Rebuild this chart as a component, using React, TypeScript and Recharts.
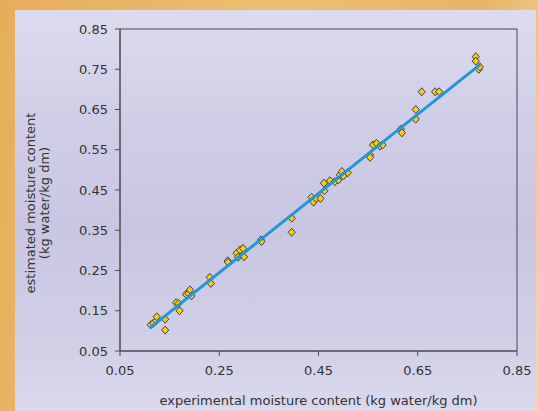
import React from "react";
import {
  ScatterChart,
  Scatter,
  XAxis,
  YAxis,
  ReferenceArea,
  Label,
} from "recharts";

// experimental (x) vs estimated (y) moisture content, kg water/kg dm
const expMoisture = [
  0.112, 0.117, 0.123, 0.124, 0.141, 0.141, 0.163, 0.168, 0.17, 0.183, 0.188,
  0.191, 0.194, 0.231, 0.233, 0.267, 0.268, 0.285, 0.288, 0.292, 0.298, 0.3,
  0.334, 0.335, 0.396, 0.396, 0.436, 0.44, 0.445, 0.454, 0.462, 0.461, 0.473,
  0.483, 0.49, 0.493, 0.497, 0.5, 0.509, 0.554, 0.554, 0.56, 0.567, 0.574,
  0.579, 0.616, 0.618, 0.646, 0.646, 0.658, 0.685, 0.693, 0.767, 0.767, 0.773,
  0.775,
];
const estMoisture = [
  0.115, 0.119, 0.125, 0.135, 0.129, 0.102, 0.17, 0.168, 0.15, 0.191, 0.193,
  0.202, 0.187, 0.233, 0.218, 0.274, 0.27, 0.293, 0.283, 0.301, 0.305, 0.284,
  0.326, 0.322, 0.38, 0.345, 0.432, 0.42, 0.429, 0.429, 0.448, 0.467, 0.473,
  0.471, 0.475, 0.487, 0.496, 0.485, 0.493, 0.537, 0.531, 0.562, 0.566, 0.559,
  0.562, 0.601, 0.592, 0.65, 0.626, 0.694, 0.694, 0.694, 0.781, 0.77, 0.75,
  0.756,
];

// linear trend line end points
const fitX = [0.11, 0.776];
const fitY = [0.107, 0.762];

const xTicks = [0.05, 0.25, 0.45, 0.65, 0.85];
const yTicks = [0.05, 0.15, 0.25, 0.35, 0.45, 0.55, 0.65, 0.75, 0.85];

const points = expMoisture.map((x, i) => ({ x, y: estMoisture[i] }));
const fitLine = fitX.map((x, i) => ({ x, y: fitY[i] }));

const font = "'DejaVu Sans', Verdana, sans-serif";
const textColor = "#333333";

const Diamond = (props: any) => {
  const { cx, cy } = props;
  if (cx == null || cy == null) return <g />;
  return (
    <polygon
      points={`${cx},${cy - 4} ${cx + 3.6},${cy} ${cx},${cy + 4} ${cx - 3.6},${cy}`}
      fill="#FFCC00"
      stroke="#3C3A6A"
      strokeWidth={1}
    />
  );
};

const NoDot = () => <g />;

const XTitle = (props: any) => {
  const { x, y, width } = props.viewBox;
  return (
    <text
      x={x + width / 2}
      y={y + 54}
      textAnchor="middle"
      fontFamily={font}
      fontSize={13}
      fill={textColor}
    >
      experimental moisture content (kg water/kg dm)
    </text>
  );
};

const YTitle = (props: any) => {
  const cy = 203;
  return (
    <g fontFamily={font} fontSize={13} fill={textColor}>
      <text
        x={30}
        y={cy}
        textAnchor="middle"
        dominantBaseline="central"
        transform={`rotate(-90 30 ${cy})`}
      >
        estimated moisture content
      </text>
      <text
        x={44}
        y={cy}
        textAnchor="middle"
        dominantBaseline="central"
        transform={`rotate(-90 44 ${cy})`}
      >
        (kg water/kg dm)
      </text>
    </g>
  );
};

export default function App() {
  return (
    <div
      style={{
        position: "absolute",
        left: 0,
        top: 0,
        width: 538,
        height: 411,
        background:
          "linear-gradient(100deg, #E6AE5C 0%, #EDBE72 45%, #E9B566 80%, #F3D9A6 100%)",
        overflow: "hidden",
      }}
    >
      <div
        style={{
          position: "absolute",
          left: 15,
          top: 10,
          width: 521,
          height: 401,
          background:
            "linear-gradient(180deg, #DCDBEE 0%, #CFCDE6 30%, #C9C6E2 55%, #D2D0E7 85%, #DAD9EC 100%)",
        }}
      />
      <div style={{ position: "absolute", left: 0, top: 0 }}>
        <ScatterChart
          width={538}
          height={411}
          margin={{ top: 29, right: 21, bottom: 0, left: 0 }}
        >
          <XAxis
            type="number"
            dataKey="x"
            domain={[0.05, 0.85]}
            ticks={xTicks}
            allowDataOverflow
            height={60}
            tickSize={5}
            tickMargin={10}
            tickFormatter={(v: number) => v.toFixed(2)}
            axisLine={{ stroke: "#4A4A4A" }}
            tickLine={{ stroke: "#4A4A4A" }}
            tick={{ fill: textColor, fontSize: 13, fontFamily: font }}
          >
            <Label content={XTitle} />
          </XAxis>
          <YAxis
            type="number"
            dataKey="y"
            domain={[0.05, 0.85]}
            ticks={yTicks}
            allowDataOverflow
            width={120}
            tickSize={5}
            tickMargin={7}
            tickFormatter={(v: number) => v.toFixed(2)}
            axisLine={{ stroke: "#4A4A4A" }}
            tickLine={{ stroke: "#4A4A4A" }}
            tick={{ fill: textColor, fontSize: 13, fontFamily: font }}
          >
            <Label content={YTitle} />
          </YAxis>
          <ReferenceArea
            x1={0.05}
            x2={0.85}
            y1={0.05}
            y2={0.85}
            fill="none"
            stroke="#4A4A4A"
            strokeWidth={1}
            fillOpacity={0}
          />
          <Scatter
            data={points}
            shape={Diamond}
            isAnimationActive={false}
          />
          <Scatter
            data={fitLine}
            line={{ stroke: "#1E98D6", strokeWidth: 3 }}
            shape={NoDot}
            isAnimationActive={false}
          />
        </ScatterChart>
      </div>
    </div>
  );
}
